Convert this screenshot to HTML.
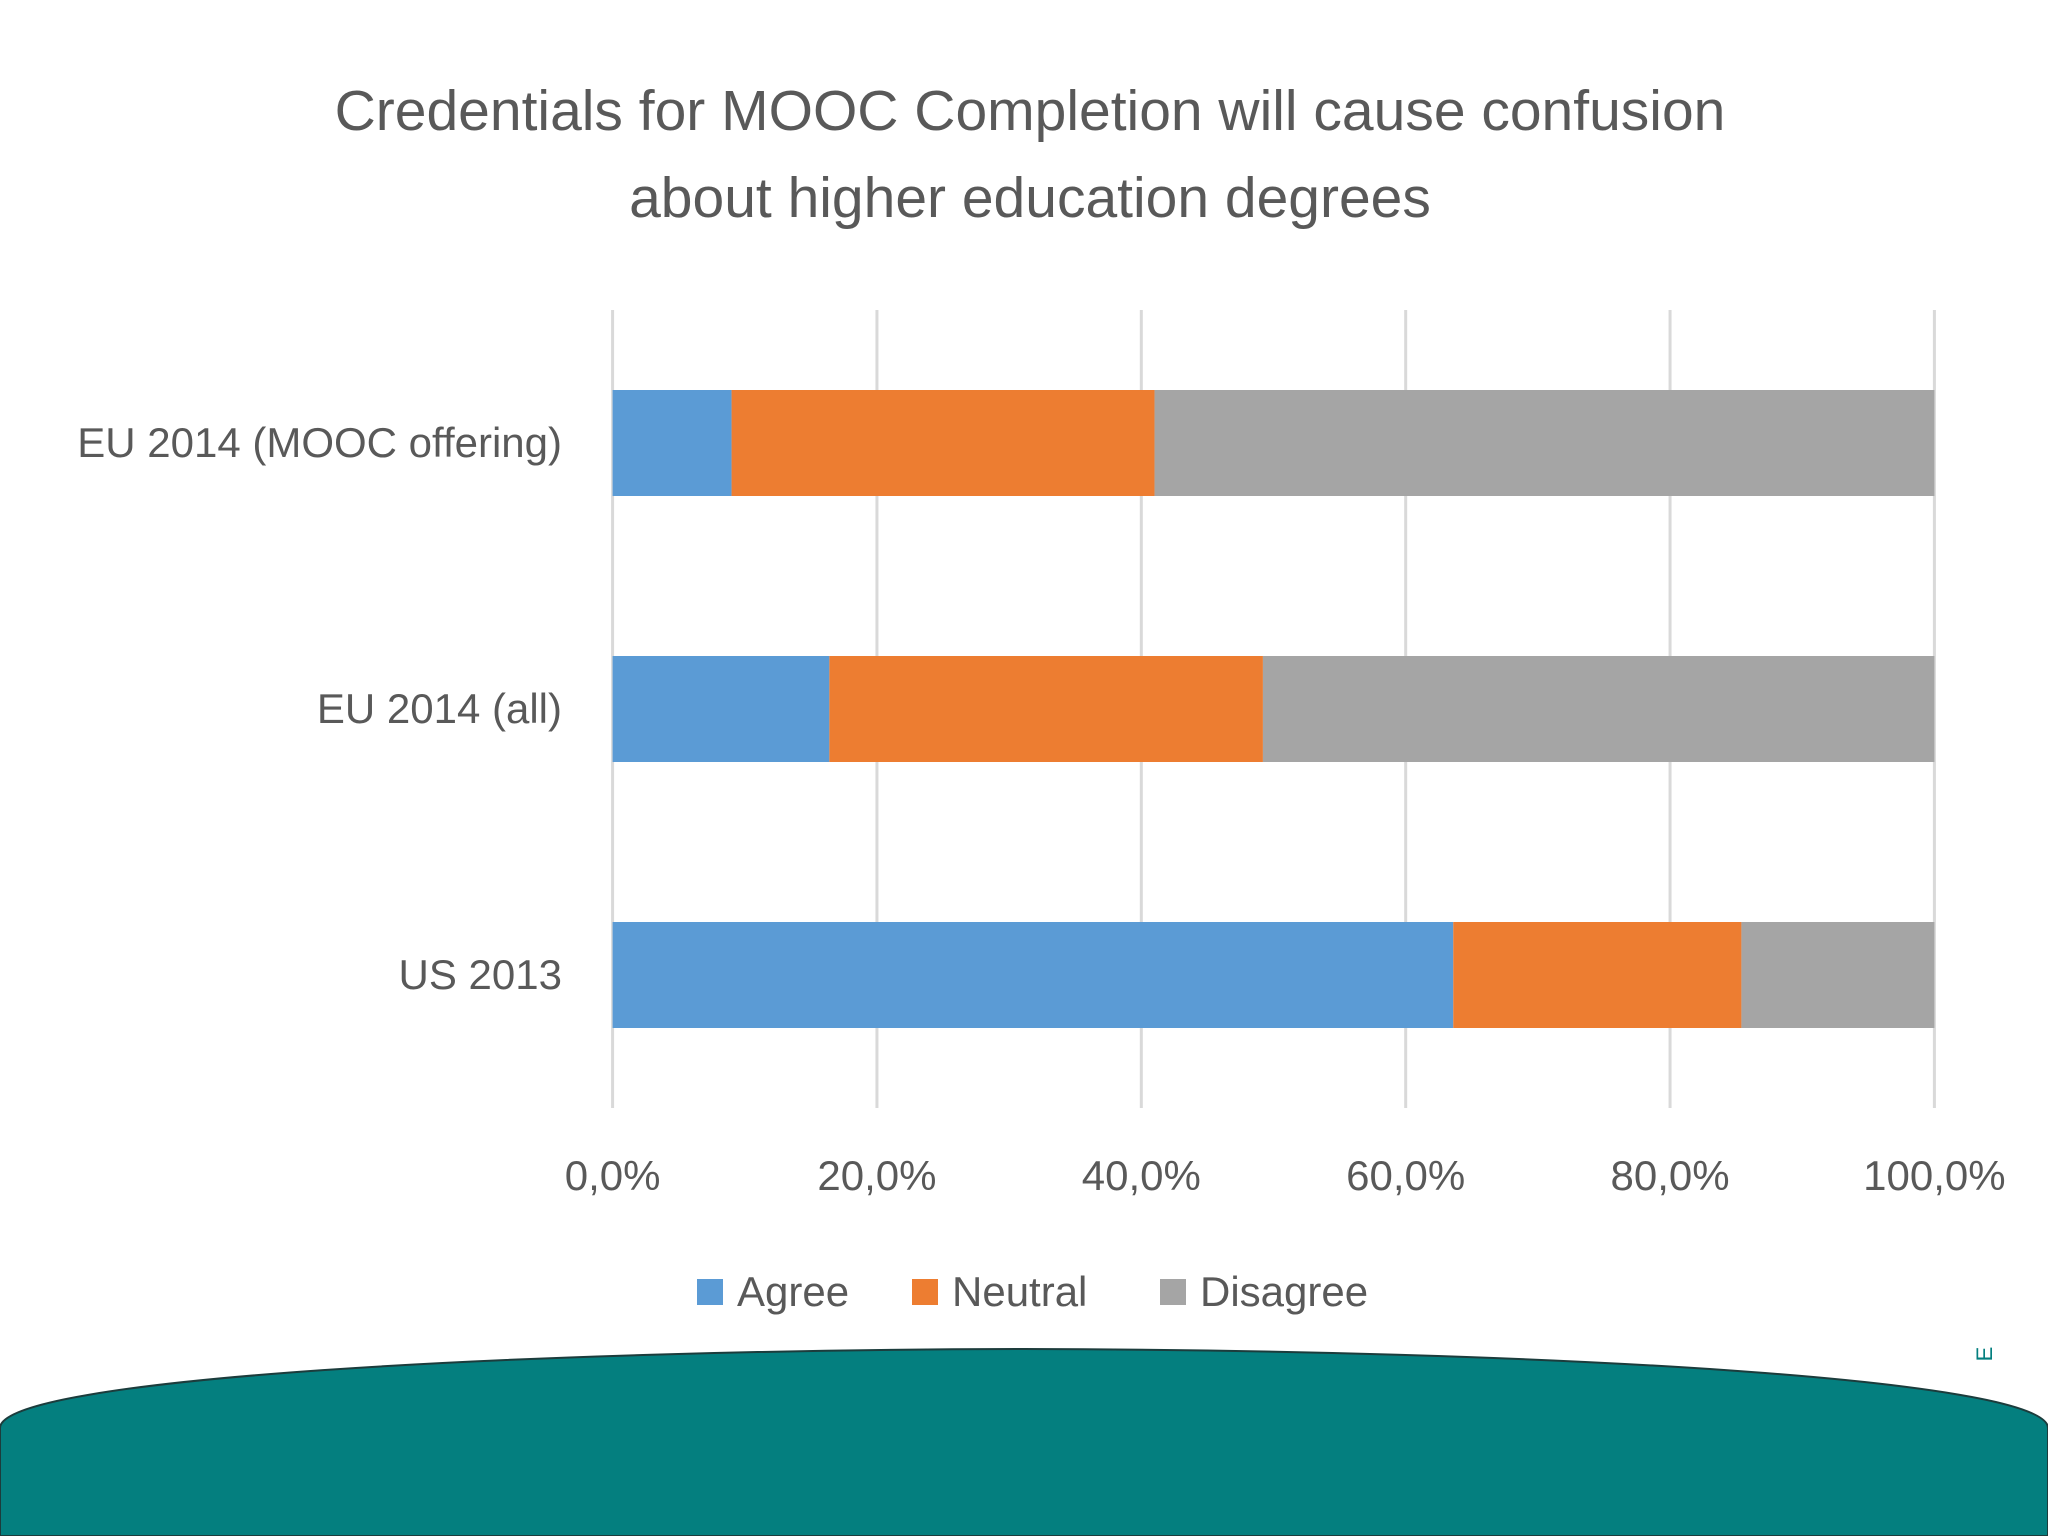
<!DOCTYPE html>
<html><head><meta charset="utf-8"><style>
html,body{margin:0;padding:0;background:#fff;}
svg{display:block;font-family:"Liberation Sans",sans-serif;}
</style></head><body>
<svg id="chart" width="2048" height="1536" viewBox="0 0 2048 1536">
<text x="1030" y="130" text-anchor="middle" font-size="57" fill="#595959">Credentials for MOOC Completion will cause confusion</text>
<text x="1030" y="217" text-anchor="middle" font-size="57" fill="#595959">about higher education degrees</text>
<g id="grid"></g><g id="bars"></g><g id="labels"></g><g id="legend"></g>
<path d="M0,1536 L0,1428 C0,1378 520,1350 1024,1349 C1530,1350 2048,1378 2048,1428 L2048,1536 Z" fill="#047f7f" stroke="#1c3c3c" stroke-width="2"/>
<text x="1992" y="1354" font-size="22" fill="#047f7f" transform="rotate(-90 1992 1354)" text-anchor="middle">E</text>
</svg>
<script>
const categories = ["EU 2014 (MOOC offering)", "EU 2014 (all)", "US 2013"];
const agree = [9.0, 16.4, 63.6];
const neutral = [32.0, 32.8, 21.8];
const disagree = [59.0, 50.8, 14.6];
const ticks = [0, 20, 40, 60, 80, 100];
const tickLabels = ["0,0%", "20,0%", "40,0%", "60,0%", "80,0%", "100,0%"];
const seriesNames = ["Agree", "Neutral", "Disagree"];
const colors = ["#5b9bd5", "#ed7d31", "#a5a5a5"];

const NS = "http://www.w3.org/2000/svg";
const x0 = 612.6, x1 = 1934.4, yTop = 310, yBot = 1108;
const xs = v => x0 + (x1 - x0) * v / 100;
const bandH = (yBot - yTop) / categories.length;
const barH = 106;
const yc = i => yTop + bandH * (i + 0.5);
function mk(tag, attrs, parent){const e=document.createElementNS(NS,tag);for(const k in attrs)e.setAttribute(k,attrs[k]);parent.appendChild(e);return e;}
const grid=document.getElementById('grid'), bars=document.getElementById('bars'), labels=document.getElementById('labels'), legend=document.getElementById('legend');
ticks.forEach((t,i)=>{
  const l=mk('line',{x1:xs(t),x2:xs(t),y1:yTop,y2:yBot,stroke:'#d9d9d9','stroke-width':3},grid);
  
  
  const tx=mk('text',{x:xs(t),y:1190,'text-anchor':'middle','font-size':42,fill:'#595959'},labels);
  tx.textContent=tickLabels[i];
  
  
});
categories.forEach((c,i)=>{
  const vals=[agree[i],neutral[i],disagree[i]];
  let acc=0;
  vals.forEach((v,s)=>{
    const r=mk('rect',{x:xs(acc),y:yc(i)-barH/2,width:xs(acc+v)-xs(acc),height:barH,fill:colors[s]},bars);
    
    
    acc+=v;
  });
  const t=mk('text',{x:562,y:yc(i)+14,'text-anchor':'end','font-size':42,fill:'#595959'},labels);
  t.textContent=c;
  
  
});
const lx=[697,912,1160];
seriesNames.forEach((n,s)=>{
  const r=mk('rect',{x:lx[s],y:1279,width:26,height:26,fill:colors[s]},legend);
  
  
  const t=mk('text',{x:lx[s]+40,y:1306,'font-size':42,fill:'#595959'},legend);
  t.textContent=n;
  
  
});
</script>
</body></html>
